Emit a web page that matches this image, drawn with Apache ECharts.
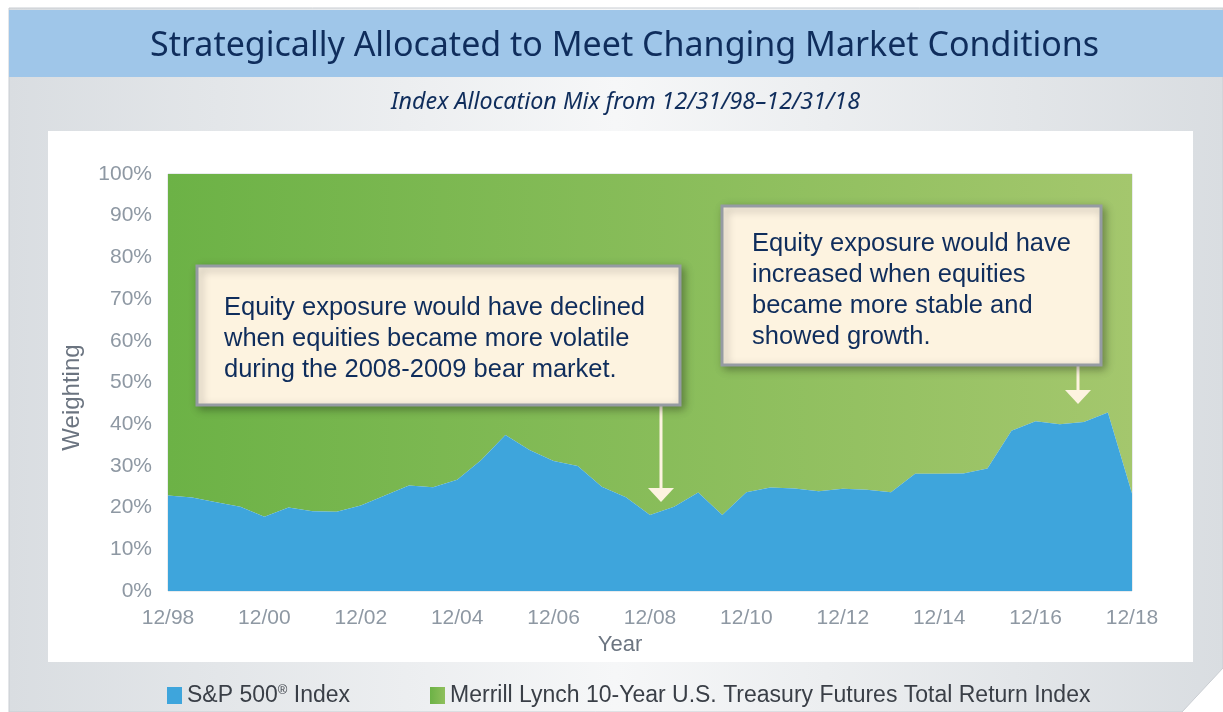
<!DOCTYPE html>
<html>
<head>
<meta charset="utf-8">
<script src="https://cdn.jsdelivr.net/npm/echarts@6/dist/echarts.min.js"></script>
<style>
  html, body { margin: 0; padding: 0; background: #ffffff; }
  #chart { width: 1223px; height: 712px; }
</style>
</head>
<body>
<div id="chart"></div>
<script>
// Half-year points, 12/98 .. 12/18
const periods = [
  '12/98', '6/99', '12/99', '6/00', '12/00', '6/01', '12/01', '6/02', '12/02', '6/03',
  '12/03', '6/04', '12/04', '6/05', '12/05', '6/06', '12/06', '6/07', '12/07', '6/08',
  '12/08', '6/09', '12/09', '6/10', '12/10', '6/11', '12/11', '6/12', '12/12', '6/13',
  '12/13', '6/14', '12/14', '6/15', '12/15', '6/16', '12/16', '6/17', '12/17', '6/18',
  '12/18'
];

// S&P 500 weighting (%)
const spWeight = [
  22.9, 22.4, 21.3, 20.2, 17.8, 20.0, 19.1, 19.0, 20.5, 22.9,
  25.3, 24.9, 26.7, 31.4, 37.4, 33.8, 31.2, 30.0, 25.0, 22.5,
  18.2, 20.2, 23.6, 18.2, 23.7, 24.8, 24.6, 23.9, 24.5, 24.3,
  23.7, 28.1, 28.1, 28.2, 29.4, 38.4, 40.7, 40.0, 40.5, 42.8,
  23.4
];

// Treasury futures take the rest of the mix
const tsyWeight = spWeight.map(v => +(100 - v).toFixed(1));

const seriesNames = ['S&P 500® Index', 'Merrill Lynch 10-Year U.S. Treasury Futures Total Return Index'];

const noteLeft = 'Equity exposure would have declined\nwhen equities became more volatile\nduring the 2008-2009 bear market.';
const noteRight = 'Equity exposure would have\nincreased when equities\nbecame more stable and\nshowed growth.';

const NAVY = '#0f2d5c';
const AXIS_GRAY = '#8e98a3';
const CREAM = '#fdf3e0';
const BLUE = '#3ea5dc';

const greenGrad = new echarts.graphic.LinearGradient(0, 0, 1, 0, [
  { offset: 0, color: '#6cb246' },
  { offset: 1, color: '#a4c76d' }
]);

const chart = echarts.init(document.getElementById('chart'), null, { renderer: 'canvas' });

// callout box: rect + text, kept flat (no groups)
function noteBox(x, y, w, h, text, tx, ty) {
  return [
    {
      type: 'rect',
      z: 50,
      shape: { x: x, y: y, width: w, height: h },
      style: {
        fill: CREAM,
        stroke: '#959ba3',
        lineWidth: 3,
        shadowBlur: 8,
        shadowOffsetX: 3,
        shadowOffsetY: 3,
        shadowColor: 'rgba(0,0,0,0.3)'
      }
    },
    {
      type: 'text',
      z: 51,
      x: tx,
      y: ty,
      style: {
        text: text,
        fill: NAVY,
        fontFamily: 'Liberation Sans',
        fontSize: 25.5,
        lineHeight: 31,
        verticalAlign: 'top'
      }
    }
  ];
}

function arrow(x, y1, y2) {
  return [
    {
      type: 'line',
      z: 45,
      shape: { x1: x, y1: y1, x2: x, y2: y2 - 12 },
      style: { stroke: CREAM, lineWidth: 3 }
    },
    {
      type: 'polygon',
      z: 45,
      shape: { points: [[x - 13, y2 - 14], [x + 13, y2 - 14], [x, y2]] },
      style: { fill: CREAM }
    }
  ];
}

const option = {
  backgroundColor: '#ffffff',
  animation: false,
  title: [
    {
      text: 'Strategically Allocated to Meet Changing Market Conditions',
      left: 145,
      top: 24,
      textStyle: { color: NAVY, fontFamily: 'Noto Sans', fontWeight: 'normal', fontSize: 34 }
    },
    {
      text: 'Index Allocation Mix from 12/31/98–12/31/18',
      left: 386,
      top: 86,
      textStyle: { color: NAVY, fontFamily: 'Noto Sans', fontStyle: 'italic', fontWeight: 'normal', fontSize: 23.3 }
    }
  ],
  graphic: [
    {
      type: 'polygon',
      z: -20,
      shape: { points: [[9, 8], [1223, 8], [1223, 668], [1182, 712], [9, 712]] },
      style: {
        fill: new echarts.graphic.LinearGradient(0, 0, 1, 0, [
          { offset: 0, color: '#d9dde1' },
          { offset: 0.5, color: '#f6f7f8' },
          { offset: 1, color: '#d9dde1' }
        ]),
        stroke: '#c9cdd2',
        lineWidth: 1
      }
    },
    {
      type: 'rect',
      z: -19,
      shape: { x: 9, y: 10, width: 1214, height: 67 },
      style: { fill: '#9fc6e9' }
    },
    {
      type: 'rect',
      z: -19,
      shape: { x: 48, y: 131, width: 1145, height: 531 },
      style: { fill: '#ffffff' }
    }
  ].concat(
    noteBox(197, 266, 483, 139, noteLeft, 224, 292),
    noteBox(722, 206, 379, 159, noteRight, 752, 228),
    arrow(661, 406, 502),
    arrow(1078, 366, 404)
  ),
  legend: {
    left: 162,
    top: 679,
    icon: 'rect',
    itemWidth: 15,
    itemHeight: 17,
    itemGap: 80,
    textStyle: {
      color: '#3a3f47',
      fontFamily: 'Liberation Sans',
      fontSize: 23,
      rich: {
        t: { color: '#3a3f47', fontFamily: 'Liberation Sans', fontSize: 23 },
        sup: { color: '#3a3f47', fontFamily: 'Liberation Sans', fontSize: 13, verticalAlign: 'top', padding: [0, 0, 10, 0] }
      }
    },
    formatter: name => {
      if (name === seriesNames[0]) return '{t|S&P 500}{sup|®}{t| Index}';
      return '{t|' + name + '}';
    },
    data: [
      { name: seriesNames[0], itemStyle: { color: BLUE } },
      {
        name: seriesNames[1],
        itemStyle: {
          color: new echarts.graphic.LinearGradient(0, 0, 1, 0, [
            { offset: 0, color: '#6cb246' },
            { offset: 1, color: '#8fbf5c' }
          ])
        }
      }
    ]
  },
  grid: {
    left: 168,
    right: 91,
    top: 174,
    bottom: 121,
    show: true,
    borderColor: '#d3d8dd',
    borderWidth: 1,
    backgroundColor: 'transparent'
  },
  xAxis: {
    type: 'category',
    data: periods,
    boundaryGap: false,
    name: 'Year',
    nameLocation: 'middle',
    nameGap: 43,
    nameTextStyle: { color: '#6b7480', fontFamily: 'Liberation Sans', fontSize: 22, padding: [0, 60, 0, 0] },
    axisLine: { show: false },
    axisTick: { show: false },
    axisLabel: {
      interval: 3,
      margin: 17,
      color: AXIS_GRAY,
      fontFamily: 'Liberation Sans',
      fontSize: 21
    },
    splitLine: { show: false }
  },
  yAxis: {
    type: 'value',
    min: 0,
    max: 100,
    interval: 10,
    name: 'Weighting',
    nameLocation: 'middle',
    nameGap: 84,
    nameRotate: 90,
    nameTextStyle: { color: '#6b7480', fontFamily: 'Liberation Sans', fontSize: 24, padding: [0, 30, 0, 0] },
    axisLine: { show: false },
    axisTick: { show: false },
    axisLabel: {
      formatter: '{value}%',
      margin: 16,
      color: AXIS_GRAY,
      fontFamily: 'Liberation Sans',
      fontSize: 21
    },
    splitLine: { show: false }
  },
  series: [
    {
      name: seriesNames[0],
      type: 'line',
      stack: 'mix',
      data: spWeight,
      symbol: 'none',
      color: BLUE,
      lineStyle: { width: 0 },
      areaStyle: { color: BLUE, opacity: 1 },
      z: 3
    },
    {
      name: seriesNames[1],
      type: 'line',
      stack: 'mix',
      data: tsyWeight,
      symbol: 'none',
      color: '#7db652',
      lineStyle: { width: 0 },
      areaStyle: { color: greenGrad, opacity: 1 },
      z: 2
    }
  ]
};

chart.setOption(option);
</script>
</body>
</html>
